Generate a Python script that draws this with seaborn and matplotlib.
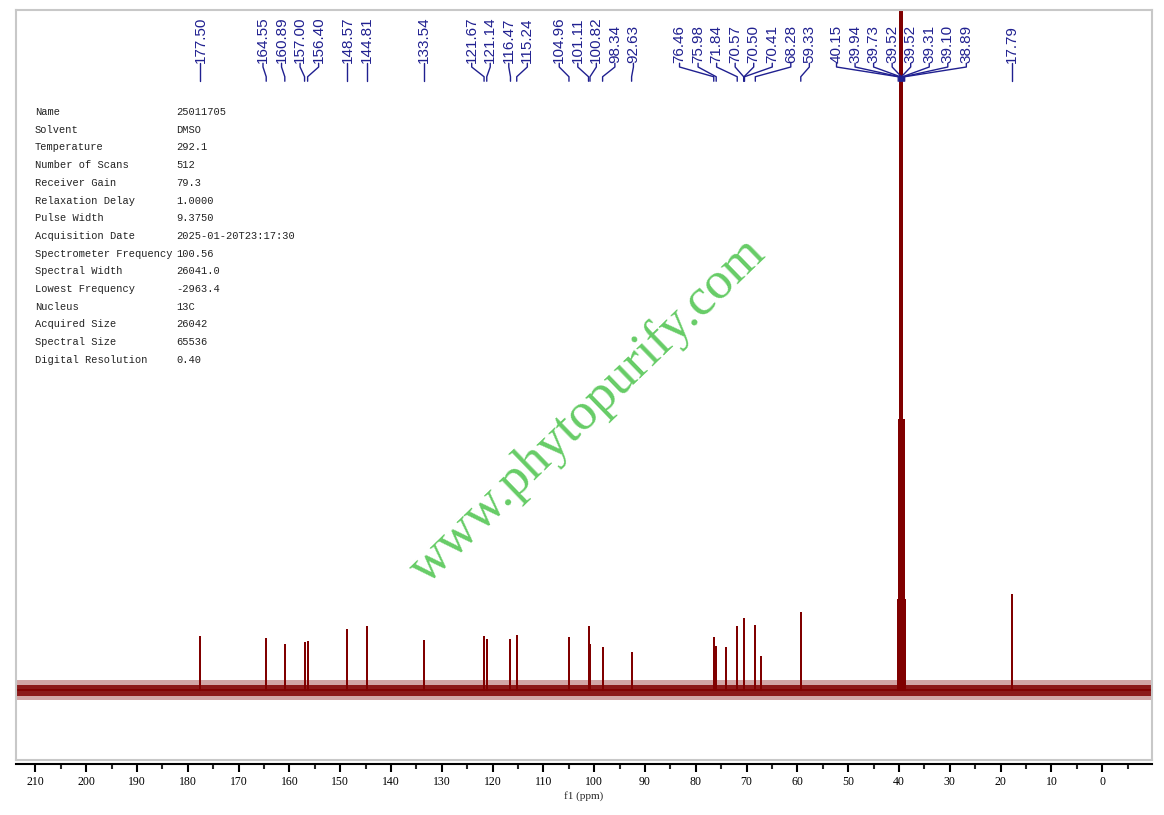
import numpy as np
import pandas as pd
import matplotlib
matplotlib.use("Agg")
import matplotlib.pyplot as plt
import matplotlib.transforms as mtransforms
from matplotlib.ticker import FixedLocator
import seaborn as sns

# ---- data ----
# labelled shifts (ppm), as printed at the top
label_ppm = [177.50, 164.55, 160.89, 157.00, 156.40, 148.57, 144.81, 133.54,
             121.67, 121.14, 116.47, 115.24, 104.96, 101.11, 100.82, 98.34,
             92.63, 76.46, 75.98, 71.84, 70.57, 70.50, 70.41, 68.28, 59.33,
             40.15, 39.94, 39.73, 39.52, 39.52, 39.31, 39.10, 38.89, 17.79]

# peak sticks: position (ppm) and height (arbitrary units)
peak_ppm = [177.50, 164.55, 160.89, 157.00, 156.40, 148.57, 144.81, 133.54,
            121.67, 121.14, 116.47, 115.24, 104.96, 101.11, 100.82, 98.34,
            92.63, 76.46, 75.98, 74.10, 71.84, 70.57, 70.50, 70.41, 68.28,
            67.10, 59.33, 40.15, 39.94, 39.73, 39.52, 39.31, 39.10, 38.89,
            17.79]
peak_height = [53, 51, 45, 47, 48, 60, 63, 49,
               53, 50, 50, 54, 52, 63, 45, 42,
               37, 52, 43, 42, 63, 71, 55, 42, 64,
               33, 77, 90, 270, 700, 800, 700, 270, 90,
               95]

params = ["Name", "Solvent", "Temperature", "Number of Scans", "Receiver Gain",
          "Relaxation Delay", "Pulse Width", "Acquisition Date",
          "Spectrometer Frequency", "Spectral Width", "Lowest Frequency",
          "Nucleus", "Acquired Size", "Spectral Size", "Digital Resolution"]
values = ["25011705", "DMSO", "292.1", "512", "79.3", "1.0000", "9.3750",
          "2025-01-20T23:17:30", "100.56", "26041.0", "-2963.4", "13C",
          "26042", "65536", "0.40"]

major_ticks = [210, 200, 190, 180, 170, 160, 150, 140, 130, 120, 110,
               100, 90, 80, 70, 60, 50, 40, 30, 20, 10, 0]

x_left, x_right = 213.8, -9.8
spec_color = "#800000"
label_color = "#202090"

sns.set_theme(style="white")
plt.rcParams["font.family"] = ["Liberation Serif", "DejaVu Sans"]

fig = plt.figure(figsize=(11.64, 8.15), dpi=100)
ax = fig.add_axes([16 / 1164, 55 / 815, 1136 / 1164, 750 / 815])
ax.set_xlim(x_left, x_right)
ax.set_ylim(-70, 680)

# baseline noise band
ax.axhspan(-10, 10, color=spec_color, alpha=0.35, lw=0)
ax.axhspan(-5.5, 5.5, color=spec_color, alpha=0.85, lw=0)

# stick spectrum
rows = [(x_left, 0)]
for p, h in sorted(zip(peak_ppm, peak_height), reverse=True):
    rows += [(p, 0), (p, h), (p, 0)]
rows.append((x_right, 0))
spec = pd.DataFrame(rows, columns=["ppm", "intensity"])
sns.lineplot(data=spec, x="ppm", y="intensity", sort=False, estimator=None,
             color=spec_color, lw=1.3, ax=ax)

ax.set_xlabel("")
ax.set_ylabel("")
ax.set_xticks([])
ax.set_yticks([])
for s in ax.spines.values():
    s.set_color("#c8c8c8")
    s.set_linewidth(1.5)

# ppm axis just under the frame
minor_ticks = [t + 5 for t in major_ticks[1:]] + [-5]
sec = ax.secondary_xaxis(-3.5 / 750)
sec.xaxis.set_major_locator(FixedLocator(major_ticks))
sec.xaxis.set_minor_locator(FixedLocator(minor_ticks))
sec.spines["bottom"].set_color("black")
sec.spines["bottom"].set_linewidth(1.5)
sec.tick_params(which="major", direction="out", length=6, width=1.5,
                pad=3, labelsize=8.5, colors="black")
sec.tick_params(which="minor", direction="out", length=3.5, width=1.5)
sec.set_xlabel("f1 (ppm)", fontsize=8, labelpad=2)

# spread the peak labels so they do not collide
gap = 3.65
order = sorted(range(len(label_ppm)), key=lambda i: -label_ppm[i])
clusters = [[i] for i in order]


def positions(cl):
    c = np.mean([label_ppm[i] for i in cl])
    n = len(cl)
    return [c + gap * ((n - 1) / 2 - k) for k in range(n)]


changed = True
while changed:
    changed = False
    for k in range(len(clusters) - 1):
        a, b = clusters[k], clusters[k + 1]
        if positions(a)[-1] - positions(b)[0] < gap - 1e-9:
            clusters[k] = a + b
            del clusters[k + 1]
            changed = True
            break

trans = mtransforms.blended_transform_factory(ax.transData, ax.transAxes)
y_text, y_a, y_b, y_c = 0.929, 0.924, 0.911, 0.905
for cl in clusters:
    for i, lx in zip(cl, positions(cl)):
        p = label_ppm[i]
        ax.plot([lx, lx, p, p], [y_text, y_a, y_b, y_c], transform=trans,
                color=label_color, lw=1.0, clip_on=False)
        ax.text(lx, y_text, f"{p:.2f}", transform=trans, rotation=90,
                ha="center", va="bottom", fontsize=11, color=label_color,
                family=["Liberation Sans", "DejaVu Sans"])

# acquisition parameters
for k, (n, v) in enumerate(zip(params, values)):
    y = 1 - (112 + k * 17.7) / 815
    fig.text(35 / 1164, y, n, fontsize=7.5, family="Liberation Mono",
             va="center", color="#222222")
    fig.text(176 / 1164, y, v, fontsize=7.5, family="Liberation Mono",
             va="center", color="#222222")

# watermark
fig.text(588 / 1164, 1 - 411 / 815, "www.phytopurify.com", rotation=44,
         ha="center", va="center", rotation_mode="anchor", fontsize=38,
         family="Liberation Serif", color="#66cc66")

fig.savefig("out.png", dpi=100)
